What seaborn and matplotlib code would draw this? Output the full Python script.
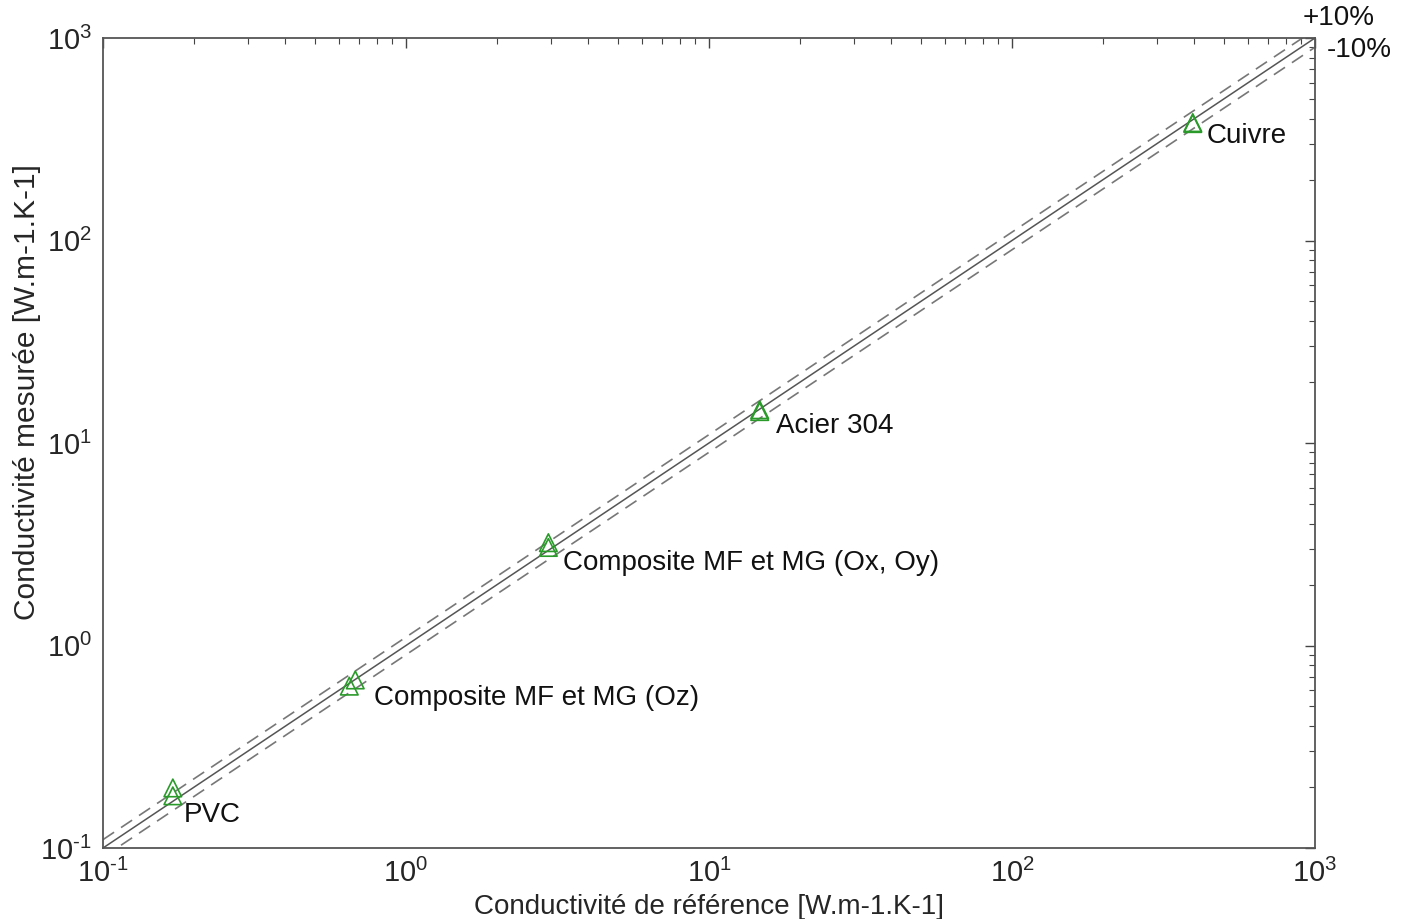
import numpy as np
import pandas as pd
import matplotlib
matplotlib.use("Agg")
import matplotlib.pyplot as plt
import seaborn as sns
from matplotlib.ticker import LogLocator, NullFormatter

materials = ["PVC", "PVC", "Composite MF et MG (Oz)", "Composite MF et MG (Oz)",
             "Composite MF et MG (Ox, Oy)", "Composite MF et MG (Ox, Oy)",
             "Acier 304", "Acier 304", "Cuivre", "Cuivre"]
k_ref = [0.17, 0.17, 0.68, 0.65, 2.95, 2.95, 14.7, 14.7, 395, 395]
k_mes = [0.198, 0.181, 0.676, 0.63, 3.22, 3.05, 14.6, 14.3, 382, 378]

label_names = ["PVC", "Composite MF et MG (Oz)", "Composite MF et MG (Ox, Oy)", "Acier 304", "Cuivre"]
label_x = [0.17, 0.665, 2.95, 14.7, 395]
label_y = [0.19, 0.65, 3.13, 14.5, 380]
label_dx_px = [11, 22, 15, 16, 14]
label_dy_px = [-23, -15, -18, -16, -13]

line_x = [0.1, 1000]
tick_vals = [0.1, 1, 10, 100, 1000]
tick_labels = [r"$10^{\text{-1}}$", r"$10^{0}$", r"$10^{1}$", r"$10^{2}$", r"$10^{3}$"]

sns.set_style("white")
plt.rcParams["font.family"] = ["Liberation Sans", "DejaVu Sans"]
plt.rcParams["mathtext.fontset"] = "custom"
plt.rcParams["mathtext.rm"] = "Liberation Sans"
plt.rcParams["mathtext.it"] = "Liberation Sans"

fig = plt.figure(figsize=(14.02, 9.19), dpi=100)
ax = fig.add_axes([103/1402, 1-848/919, (1315-103)/1402, (848-38)/919])

df_line = pd.DataFrame({"x": line_x, "y": line_x})
sns.lineplot(data=df_line, x="x", y="y", ax=ax, color="#555555", lw=1.1)
sns.lineplot(x=line_x, y=[v*1.1 for v in line_x], ax=ax, color="#777777", lw=1.2, linestyle=(0, (8, 5)))
sns.lineplot(x=line_x, y=[v*0.9 for v in line_x], ax=ax, color="#777777", lw=1.2, linestyle=(0, (8, 5)))

df = pd.DataFrame({"ref": k_ref, "mes": k_mes, "mat": materials})
sns.scatterplot(data=df, x="ref", y="mes", ax=ax, marker="^", s=160,
                facecolors="none", edgecolor="#2a9a2a", linewidth=1.2, zorder=5)

ax.set_xscale("log")
ax.set_yscale("log")
ax.set_xlim(0.1, 1000)
ax.set_ylim(0.1, 1000)
ax.set_xticks(tick_vals)
ax.set_xticklabels(tick_labels)
ax.set_yticks(tick_vals)
ax.set_yticklabels(tick_labels)
ax.xaxis.set_minor_locator(LogLocator(base=10, subs=np.arange(2, 10)))
ax.yaxis.set_minor_locator(LogLocator(base=10, subs=np.arange(2, 10)))
ax.xaxis.set_minor_formatter(NullFormatter())
ax.yaxis.set_minor_formatter(NullFormatter())
ax.tick_params(which="both", direction="in", top=True, right=True, color="#444444")
ax.tick_params(which="major", length=7, width=1, labelsize=21, pad=8)
ax.tick_params(which="minor", length=4, width=0.8)
for s in ax.spines.values():
    s.set_color("#555555")
    s.set_linewidth(1.3)

for name, x, y, dx, dy in zip(label_names, label_x, label_y, label_dx_px, label_dy_px):
    ax.annotate(name, xy=(x, y), xytext=(dx*0.72, dy*0.72), textcoords="offset points",
                ha="left", va="center", fontsize=20, color="#111111")

ax.text((1339-103)/(1315-103), 1 + (38-18)/810, "+10%", transform=ax.transAxes,
        ha="center", va="center", fontsize=20, color="#111111")
ax.text((1359-103)/(1315-103), 1 - (50-38)/810, "-10%", transform=ax.transAxes,
        ha="center", va="center", fontsize=20, color="#111111")

ax.set_xlabel("Conductivité de référence [W.m-1.K-1]", fontsize=20, labelpad=4)
ax.set_ylabel("Conductivité mesurée [W.m-1.K-1]", fontsize=21.5, labelpad=8)
ax.yaxis.set_label_coords(-0.051, (848-392)/810)
if ax.get_legend():
    ax.get_legend().remove()

fig.savefig("out.png", dpi=100, facecolor="white")
